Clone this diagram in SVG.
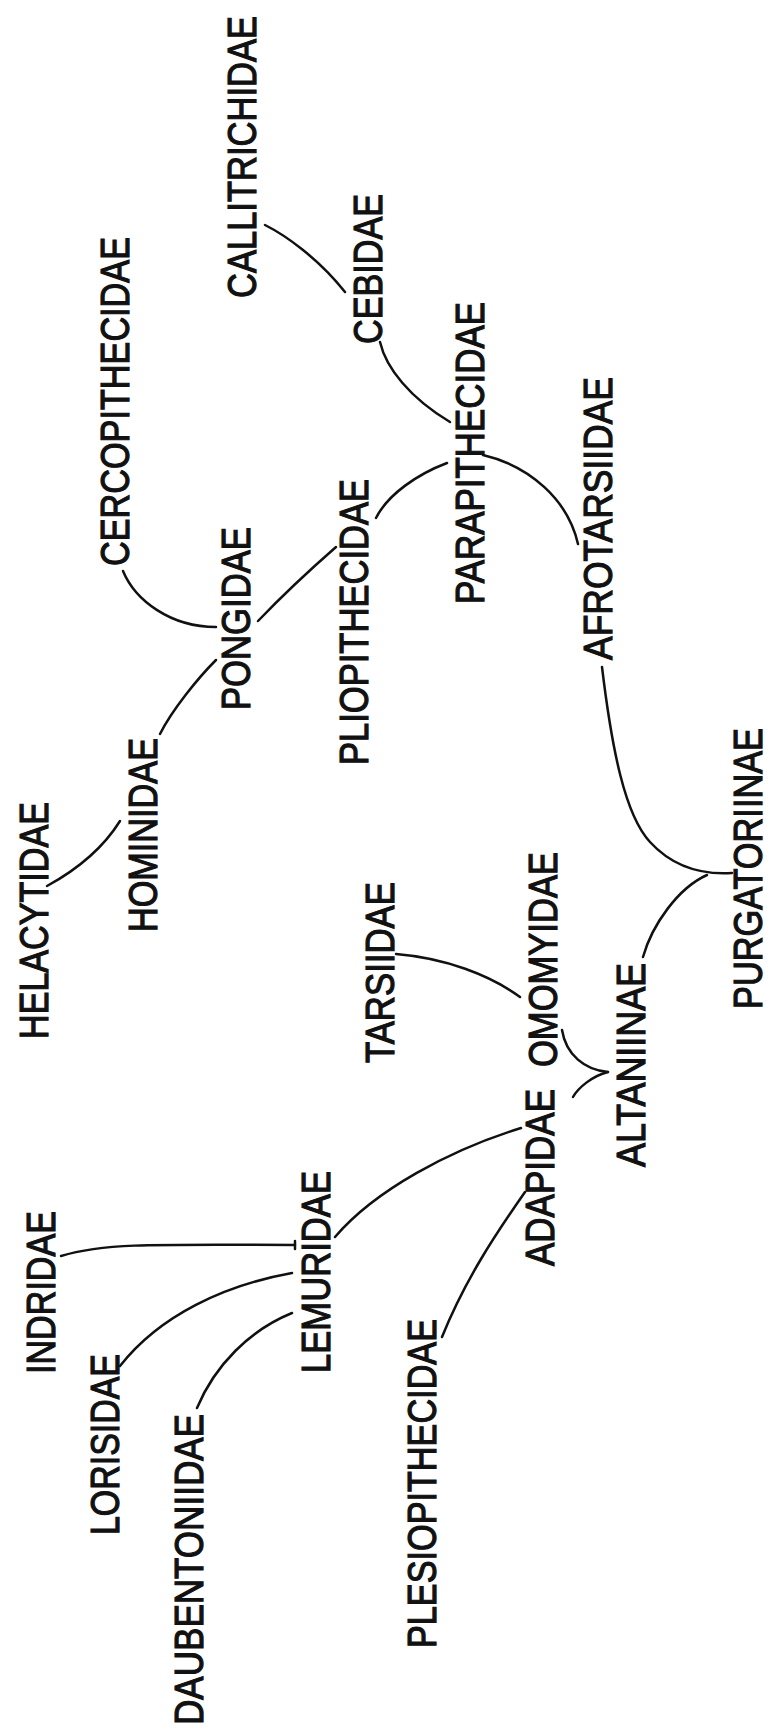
<svg xmlns="http://www.w3.org/2000/svg" width="771" height="1731" viewBox="0 0 771 1731">
<style>
.lbl{font-family:"Liberation Sans",Arial,sans-serif;font-size:35px;fill:#111;stroke:#111;stroke-width:1;}
.con path{fill:none;stroke:#111;stroke-width:2.5;stroke-linecap:round;}
</style>
<rect width="771" height="1731" fill="#fff"/>
<g id="n-callitrichidae"><text class="lbl" transform="translate(256,298) rotate(-90) scale(1,1.17)" textLength="282" lengthAdjust="spacingAndGlyphs">CALLITRICHIDAE</text></g>
<g id="n-cebidae"><text class="lbl" transform="translate(382,344) rotate(-90) scale(1,1.17)" textLength="150" lengthAdjust="spacingAndGlyphs">CEBIDAE</text></g>
<g id="n-cercopithecidae"><text class="lbl" transform="translate(129,566) rotate(-90) scale(1,1.17)" textLength="329" lengthAdjust="spacingAndGlyphs">CERCOPITHECIDAE</text></g>
<g id="n-parapithecidae"><text class="lbl" transform="translate(484,604) rotate(-90) scale(1,1.17)" textLength="302" lengthAdjust="spacingAndGlyphs">PARAPITHECIDAE</text></g>
<g id="n-afrotarsiidae"><text class="lbl" transform="translate(612,660) rotate(-90) scale(1,1.17)" textLength="283" lengthAdjust="spacingAndGlyphs">AFROTARSIIDAE</text></g>
<g id="n-pongidae"><text class="lbl" transform="translate(250,710) rotate(-90) scale(1,1.17)" textLength="183" lengthAdjust="spacingAndGlyphs">PONGIDAE</text></g>
<g id="n-pliopithecidae"><text class="lbl" transform="translate(368,765) rotate(-90) scale(1,1.17)" textLength="286" lengthAdjust="spacingAndGlyphs">PLIOPITHECIDAE</text></g>
<g id="n-hominidae"><text class="lbl" transform="translate(157,932) rotate(-90) scale(1,1.17)" textLength="194" lengthAdjust="spacingAndGlyphs">HOMINIDAE</text></g>
<g id="n-helacytidae"><text class="lbl" transform="translate(48,1039) rotate(-90) scale(1,1.17)" textLength="237" lengthAdjust="spacingAndGlyphs">HELACYTIDAE</text></g>
<g id="n-purgatoriinae"><text class="lbl" transform="translate(762,1009) rotate(-90) scale(1,1.17)" textLength="281" lengthAdjust="spacingAndGlyphs">PURGATORIINAE</text></g>
<g id="n-tarsiidae"><text class="lbl" transform="translate(394,1063) rotate(-90) scale(1,1.17)" textLength="181" lengthAdjust="spacingAndGlyphs">TARSIIDAE</text></g>
<g id="n-omomyidae"><text class="lbl" transform="translate(557,1067) rotate(-90) scale(1,1.17)" textLength="215" lengthAdjust="spacingAndGlyphs">OMOMYIDAE</text></g>
<g id="n-altaniinae"><text class="lbl" transform="translate(645,1167) rotate(-90) scale(1,1.17)" textLength="204" lengthAdjust="spacingAndGlyphs">ALTANIINAE</text></g>
<g id="n-adapidae"><text class="lbl" transform="translate(554,1266) rotate(-90) scale(1,1.17)" textLength="177" lengthAdjust="spacingAndGlyphs">ADAPIDAE</text></g>
<g id="n-indridae"><text class="lbl" transform="translate(55,1374) rotate(-90) scale(1,1.17)" textLength="163" lengthAdjust="spacingAndGlyphs">INDRIDAE</text></g>
<g id="n-lemuridae"><text class="lbl" transform="translate(330,1373) rotate(-90) scale(1,1.17)" textLength="202" lengthAdjust="spacingAndGlyphs">LEMURIDAE</text></g>
<g id="n-lorisidae"><text class="lbl" transform="translate(119,1535) rotate(-90) scale(1,1.17)" textLength="181" lengthAdjust="spacingAndGlyphs">LORISIDAE</text></g>
<g id="n-daubentoniidae"><text class="lbl" transform="translate(203,1725) rotate(-90) scale(1,1.17)" textLength="311" lengthAdjust="spacingAndGlyphs">DAUBENTONIIDAE</text></g>
<g id="n-plesiopithecidae"><text class="lbl" transform="translate(436,1648) rotate(-90) scale(1,1.17)" textLength="329" lengthAdjust="spacingAndGlyphs">PLESIOPITHECIDAE</text></g>
<g id="connectors" class="con">
<path d="M265,225 C285,235 318,258 345,292"/>
<path d="M380,342 C386,368 410,398 450,422"/>
<path d="M447,463 C418,474 388,494 376,518"/>
<path d="M483,455 C530,466 568,500 578,544"/>
<path d="M123,571 C135,600 170,627 216,627"/>
<path d="M258,621 C280,598 312,568 336,547"/>
<path d="M216,660 C198,678 172,710 160,734"/>
<path d="M120,821 C105,845 80,868 47,886"/>
<path d="M602,667 C612,750 625,815 650,842 C672,866 700,875 732,873"/>
<path d="M643,957 C652,925 678,888 707,875"/>
<path d="M396,954 C445,958 490,975 520,997"/>
<path d="M562,1030 C566,1055 585,1070 608,1072"/>
<path d="M573,1097 C578,1088 592,1076 608,1072"/>
<path d="M521,1128 C450,1150 375,1190 335,1237"/>
<path d="M61,1256 C100,1244 140,1244 295,1245"/>
<path d="M295,1241 L295,1249"/>
<path d="M292,1273 C225,1285 160,1315 120,1366"/>
<path d="M292,1313 C250,1330 215,1365 197,1408"/>
<path d="M525,1192 C495,1235 465,1280 442,1337"/>
</g>
</svg>
